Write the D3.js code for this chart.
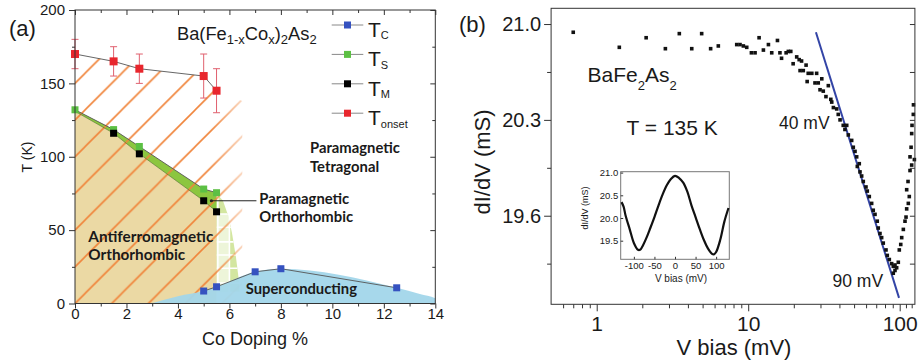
<!DOCTYPE html>
<html><head><meta charset="utf-8">
<script src="https://cdn.jsdelivr.net/npm/d3@7"></script>
<style>
body{margin:0;background:#fff;}
svg{display:block;}
text{font-family:"Liberation Sans",Arial,sans-serif;fill:#1a1a1a;}
.bold{font-family:Lato,"Open Sans",sans-serif;font-weight:700;}
</style></head><body>
<svg id="c" width="918" height="362"></svg>
<script>
// ================= DATA =================
// Panel (a): Ba(Fe1-xCox)2As2 phase diagram
const dopingOnset = [0, 1.5, 2.5, 5, 5.5];
const tOnset      = [170, 165, 160, 155, 145];
const tOnsetErr   = [10, 10, 10, 15, 15];
const dopingS = [0, 1.5, 2.5, 5, 5.5];
const tS      = [132, 118.5, 107, 78, 75.5];
const dopingM = [1.5, 2.5, 5, 5.5];
const tM      = [116, 102, 70, 62.5];
const dopingC = [5, 5.5, 7, 8, 12.5];
const tC      = [8.5, 11.4, 21.6, 23.7, 10.7];
// region outlines [doping, T]
const afmStart   = [[0, 0], [0, 131]];
const afmEnd     = [[5.5, 0]];
const hatchRight = [[6.5, 138], [6.5, 0]];
const poRegion   = [[5.5, 75], [5.75, 70], [5.95, 60], [6.1, 48], [6.25, 32], [6.35, 18], [6.4, 8], [5.5, 8]];
const poGridX    = [5.55, 6.0];
const poGridT    = [14, 24, 33, 42, 52, 61];
const domeLeft   = [[2.95, 0], [4, 5]];
const domeRight  = [[13.4, 6.5], [14, 3.5], [14, 0]];
const poLeader   = [[5.3, 70], [7.05, 70]];
// axis ticks
const xTicksA = [0, 2, 4, 6, 8, 10, 12, 14];
const xMinorA = [1, 3, 5, 7, 9, 11, 13];
const yTicksA = [0, 50, 100, 150, 200];
const yMinorA = [25, 75, 125, 175];
const legendNames = ["C", "S", "M", "onset"];
const legendColors = ["#3552c0", "#5cc044", "#000000", "#e8262d"];

// Panel (b): BaFe2As2 dI/dV vs V bias (log)
const biasV = [0.70,1.41,2.12,2.84,3.51,4.24,4.93,5.65,6.35,8.40,8.83,9.29,9.78,10.5,11.1,11.8,12.6,13.6,14.3,15.6,16.2,16.6,17.8,18.4,19.1,19.8,20.9,21.7,22.5,22.0,23.1,24.1,24.9,26.3,28.3,24.5,27.6,29.0,30.6,29.8,31.3,33.8,32.6,35.1,35.6,36.5,38.4,39.3,40.4,42.4,43.5,44.7,45.8,48.2,49.4,50.7,52.0,54.1,52.5,54.7,56.1,57.5,59.9,61.1,63.0,65.3,66.9,68.7,71.1,72.2,74.1,76.0,77.9,81.2,82.8,85.4,88.5,90.7,93.1,95.5,93.1,90.7,97.9,99.4,101.6,103.1,105.7,108.4,110.1,111.2,114.0,115.7,111.2,113.5,117.0,120.0,117.0,118.9,120.0,120.6,123.0,123.3,125.0];
const dIdV  = [20.94,20.83,20.90,20.82,20.93,20.82,20.93,20.82,20.84,20.85,20.85,20.84,20.83,20.79,20.79,20.90,20.81,20.85,20.79,20.88,20.79,20.75,20.79,20.80,20.80,20.71,20.76,20.74,20.73,20.66,20.66,20.70,20.64,20.64,20.64,20.58,20.57,20.57,20.60,20.52,20.51,20.55,20.47,20.45,20.43,20.39,20.38,20.34,20.30,20.26,20.23,20.26,20.19,20.15,20.10,20.07,20.03,19.98,19.96,19.92,19.89,19.85,19.81,19.78,19.74,19.69,19.64,19.61,19.56,19.51,19.47,19.44,19.40,19.35,19.31,19.28,19.25,19.23,19.24,19.22,19.20,19.18,19.26,19.35,19.39,19.44,19.50,19.56,19.59,19.65,19.69,19.74,19.79,19.85,19.93,19.97,20.03,20.10,20.20,20.26,20.34,20.41,20.01];
const fitV = [28, 99];
const fitG = [20.94, 19.0];
const yTicksB = [19.6, 20.3, 21.0];
const yMinorB = [19.25, 19.95, 20.65];
const xTicksB = [1, 10, 100];
const xMinorB = [0.6,0.7,0.8,0.9,2,3,4,5,6,7,8,9,20,30,40,50,60,70,80,90,110,120];
// inset: full bias sweep
const insetV = [-130,-125,-120,-110,-100,-90,-85,-80,-70,-60,-50,-40,-30,-20,-10,0,10,20,30,40,50,60,70,80,90,95,100,110,120,130];
const insetG = [20.35,20.25,20.05,19.75,19.45,19.30,19.30,19.36,19.55,19.78,20.02,20.28,20.52,20.72,20.86,20.93,20.88,20.78,20.58,20.28,20.02,19.76,19.52,19.33,19.21,19.20,19.25,19.52,19.92,20.22];
const insetXTicks = [-100, -50, 0, 50, 100];
const insetYTicks = [19.5, 20.0, 20.5, 21.0];

// ================= DRAW =================
const svg = d3.select("#c");
const defs = svg.append("defs");
const axisColor = "#333";

// ---------- Panel (a) ----------
const xA = d3.scaleLinear().domain([0, 14]).range([75, 435.3]);
const yA = d3.scaleLinear().domain([0, 200]).range([303.5, 10]);
const P = d => [xA(d[0]), yA(d[1])];
const zipA = (xs, ys) => xs.map((x, i) => [x, ys[i]]);
const poly = pts => "M" + pts.map(P).map(p => p.join(",")).join("L") + "Z";

const onsetPts = zipA(dopingOnset, tOnset);
const sPts = zipA(dopingS, tS);
const mPts = zipA(dopingM, tM);
const cPts = zipA(dopingC, tC);

const gA = svg.append("g");

// AFM tan region
gA.append("path").attr("d", poly([...afmStart, ...mPts, ...afmEnd])).attr("fill", "#ebd9a4");

// paramagnetic orthorhombic region
defs.append("clipPath").attr("id", "poClip").append("path").attr("d", poly(poRegion));
gA.append("path").attr("d", poly(poRegion)).attr("fill", "#d3e6a0");
const poG = gA.append("g").attr("clip-path", "url(#poClip)");
poG.append("rect").attr("x", xA(poGridX[0])).attr("width", xA(poGridX[1]) - xA(poGridX[0]))
  .attr("y", yA(poGridT[poGridT.length - 1])).attr("height", yA(0) - yA(poGridT[poGridT.length - 1]))
  .attr("fill", "#fff").attr("opacity", 0.6);
poG.selectAll("line.gx").data(poGridX).join("line")
  .attr("x1", d => xA(d)).attr("x2", d => xA(d)).attr("y1", yA(75)).attr("y2", yA(0))
  .attr("stroke", "#fff").attr("stroke-width", 1.6);
poG.selectAll("line.gy").data(poGridT).join("line")
  .attr("x1", xA(5.5)).attr("x2", xA(6.5)).attr("y1", d => yA(d)).attr("y2", d => yA(d))
  .attr("stroke", "#fff").attr("stroke-width", 1.6);

// green band between T_S and T_M
gA.append("path").attr("d", poly([...sPts, ...mPts.slice().reverse(), afmStart[1]])).attr("fill", "#8cc63f");

// hatching
const s = 36.7;
const pat = defs.append("pattern").attr("id", "hatch").attr("patternUnits", "userSpaceOnUse")
  .attr("width", s).attr("height", s).attr("x", 11.5).attr("y", 0);
pat.append("path").attr("d", `M0,${s}L${s},0M-2,2L2,-2M${s-2},${s+2}L${s+2},${s-2}`)
  .attr("stroke", "#f0843a").attr("stroke-width", 1.6);
defs.append("clipPath").attr("id", "hatchClip").append("path")
  .attr("d", poly([[0, 0], ...onsetPts, ...hatchRight]));
const grad = defs.append("linearGradient").attr("id", "fadeG").attr("gradientUnits", "userSpaceOnUse")
  .attr("x1", xA(5.3)).attr("x2", xA(6.6)).attr("y1", 0).attr("y2", 0);
grad.append("stop").attr("offset", 0).attr("stop-color", "#fff");
grad.append("stop").attr("offset", 1).attr("stop-color", "#555");
defs.append("mask").attr("id", "fadeM").attr("maskUnits", "userSpaceOnUse")
  .attr("x", 0).attr("y", 0).attr("width", 918).attr("height", 362)
  .append("rect").attr("x", 0).attr("y", 0).attr("width", 918).attr("height", 362).attr("fill", "url(#fadeG)");
gA.append("rect").attr("x", 0).attr("y", 0).attr("width", 460).attr("height", 362)
  .attr("fill", "url(#hatch)").attr("clip-path", "url(#hatchClip)").attr("mask", "url(#fadeM)");

// superconducting dome
const domeTop = d3.line().x(d => xA(d[0])).y(d => yA(d[1])).curve(d3.curveMonotoneX);
gA.append("path")
  .attr("d", domeTop([...domeLeft, ...cPts, ...domeRight]) + "Z")
  .attr("fill", "#a2d6ea").attr("opacity", 0.95);

// series lines
const lineA = d3.line().x(d => xA(d[0])).y(d => yA(d[1]));
[onsetPts, sPts, cPts].forEach(pts => {
  gA.append("path").attr("d", lineA(pts)).attr("fill", "none").attr("stroke", "#555").attr("stroke-width", 0.9);
});
gA.append("path").attr("d", lineA([afmStart[1], ...mPts])).attr("fill", "none").attr("stroke", "#4a6a20").attr("stroke-width", 0.6);

// error bars
const eb = gA.append("g").attr("stroke", "#e0616f").attr("stroke-width", 1);
dopingOnset.forEach((x, i) => {
  const cx = xA(x), y1 = yA(tOnset[i] + tOnsetErr[i]), y2 = yA(tOnset[i] - tOnsetErr[i]);
  eb.append("line").attr("x1", cx).attr("x2", cx).attr("y1", y1).attr("y2", y2);
  eb.append("line").attr("x1", cx - 3.5).attr("x2", cx + 3.5).attr("y1", y1).attr("y2", y1);
  eb.append("line").attr("x1", cx - 3.5).attr("x2", cx + 3.5).attr("y1", y2).attr("y2", y2);
});

// markers
function squares(g, pts, color, size) {
  g.selectAll(null).data(pts).join("rect")
    .attr("x", d => xA(d[0]) - size / 2).attr("y", d => yA(d[1]) - size / 2)
    .attr("width", size).attr("height", size).attr("fill", color);
}
squares(gA, sPts, legendColors[1], 7);
squares(gA, mPts, legendColors[2], 7);
squares(gA, onsetPts, legendColors[3], 8);
squares(gA, cPts, legendColors[0], 7);

// leader line for PO label
gA.append("path").attr("d", lineA(poLeader)).attr("stroke", "#222").attr("stroke-width", 1).attr("fill", "none");
gA.append("circle").attr("cx", xA(poLeader[0][0])).attr("cy", yA(poLeader[0][1])).attr("r", 1.6).attr("fill", "#222");

// axes (a)
function styleAxis(g, fs) {
  g.select(".domain").remove();
  g.selectAll("line").attr("stroke", axisColor);
  g.selectAll("text").style("font-size", fs + "px").attr("fill", "#1a1a1a");
}
const fmt = d => String(d);
styleAxis(gA.append("g").attr("transform", `translate(0,${yA(0)})`)
  .call(d3.axisBottom(xA).tickValues(xTicksA).tickSize(5).tickPadding(-0.5).tickFormat(fmt)), 15);
styleAxis(gA.append("g").attr("transform", `translate(0,${yA(0)})`)
  .call(d3.axisBottom(xA).tickValues(xMinorA).tickSize(3).tickFormat("")), 1);
styleAxis(gA.append("g").attr("transform", `translate(0,${yA(200)})`)
  .call(d3.axisTop(xA).tickValues(xTicksA).tickSize(-5).tickFormat("")), 1);
styleAxis(gA.append("g").attr("transform", `translate(0,${yA(200)})`)
  .call(d3.axisTop(xA).tickValues(xMinorA).tickSize(-3).tickFormat("")), 1);
styleAxis(gA.append("g").attr("transform", `translate(${xA(0)},0)`)
  .call(d3.axisLeft(yA).tickValues(yTicksA).tickSize(6).tickPadding(4).tickFormat(fmt)), 15);
styleAxis(gA.append("g").attr("transform", `translate(${xA(0)},0)`)
  .call(d3.axisLeft(yA).tickValues(yMinorA).tickSize(3).tickFormat("")), 1);
styleAxis(gA.append("g").attr("transform", `translate(${xA(14)},0)`)
  .call(d3.axisRight(yA).tickValues(yTicksA).tickSize(-5).tickFormat("")), 1);
styleAxis(gA.append("g").attr("transform", `translate(${xA(14)},0)`)
  .call(d3.axisRight(yA).tickValues(yMinorA).tickSize(-3).tickFormat("")), 1);
gA.append("rect").attr("x", xA(0)).attr("y", yA(200)).attr("width", xA(14) - xA(0)).attr("height", yA(0) - yA(200))
  .attr("fill", "none").attr("stroke", axisColor).attr("stroke-width", 1);

// texts (a)
svg.append("text").attr("x", 9).attr("y", 36).style("font-size", "22px").text("(a)");
svg.append("text").attr("transform", "translate(32,157) rotate(-90)").attr("text-anchor", "middle")
  .style("font-size", "14px").text("T (K)");
svg.append("text").attr("x", 255).attr("y", 345).attr("text-anchor", "middle").style("font-size", "18px").text("Co Doping %");
const title = svg.append("text").attr("x", 177).attr("y", 39.5).style("font-size", "18.3px");
title.append("tspan").text("Ba(Fe");
title.append("tspan").attr("dy", 4).style("font-size", "13px").text("1-x");
title.append("tspan").attr("dy", -4).text("Co");
title.append("tspan").attr("dy", 4).style("font-size", "13px").text("x");
title.append("tspan").attr("dy", -4).text(")");
title.append("tspan").attr("dy", 4).style("font-size", "13px").text("2");
title.append("tspan").attr("dy", -4).text("As");
title.append("tspan").attr("dy", 4).style("font-size", "13px").text("2");

// legend
legendNames.forEach((n, i) => {
  const ly = 25 + i * 29.4;
  svg.append("line").attr("x1", 331.7).attr("x2", 363.3).attr("y1", ly).attr("y2", ly).attr("stroke", "#888").attr("stroke-width", 1);
  svg.append("rect").attr("x", 347.5 - 3.5).attr("y", ly - 3.5).attr("width", 7).attr("height", 7).attr("fill", legendColors[i]);
  const t = svg.append("text").attr("x", 368).attr("y", ly + 11.8).style("font-size", "21px");
  t.append("tspan").text("T");
  t.append("tspan").attr("dy", 2.5).style("font-size", "11px").text(n);
});

function boldLines(x, ys, lines, fs) {
  lines.forEach((l, i) => svg.append("text").attr("class", "bold").attr("x", x).attr("y", ys[i]).style("font-size", fs + "px").text(l));
}
boldLines(310, [153.3, 171.7], ["Paramagnetic", "Tetragonal"], 14.8);
boldLines(259.3, [204, 222.3], ["Paramagnetic", "Orthorhombic"], 14.8);
boldLines(88.3, [241.7, 260], ["Antiferromagnetic", "Orthorhombic"], 15.3);
boldLines(245.7, [294], ["Superconducting"], 14.8);

// ---------- Panel (b) ----------
const xB = d3.scaleLog().domain([0.5, 126]).range([551.1, 914.9]);
const yB = d3.scaleLinear().domain([18.953, 21.115]).range([304.3, 8.3]);
const gB = svg.append("g");

// fit line
const lineB = d3.line().x(d => xB(d[0])).y(d => yB(d[1]));
gB.append("path").attr("d", lineB(fitV.map((v, i) => [v, fitG[i]])))
  .attr("stroke", "#3344a6").attr("stroke-width", 2).attr("fill", "none");
// scatter
gB.selectAll(null).data(biasV.map((v, i) => [v, dIdV[i]])).join("rect")
  .attr("x", d => xB(d[0]) - 1.8).attr("y", d => yB(d[1]) - 1.8)
  .attr("width", 3.6).attr("height", 3.6).attr("fill", "#111");

const fmt1 = d3.format(".1f");
styleAxis(gB.append("g").attr("transform", `translate(0,${yB.range()[0]})`)
  .call(d3.axisBottom(xB).tickValues(xTicksB).tickSize(7).tickPadding(5).tickFormat(fmt)), 21);
styleAxis(gB.append("g").attr("transform", `translate(0,${yB.range()[0]})`)
  .call(d3.axisBottom(xB).tickValues(xMinorB).tickSize(4).tickFormat("")), 1);
styleAxis(gB.append("g").attr("transform", `translate(${xB.range()[0]},0)`)
  .call(d3.axisLeft(yB).tickValues(yTicksB).tickSize(7).tickPadding(3).tickFormat(fmt1)), 20);
styleAxis(gB.append("g").attr("transform", `translate(${xB.range()[0]},0)`)
  .call(d3.axisLeft(yB).tickValues(yMinorB).tickSize(4).tickFormat("")), 1);
styleAxis(gB.append("g").attr("transform", `translate(${xB.range()[1]},0)`)
  .call(d3.axisRight(yB).tickValues(yTicksB.concat(yMinorB)).tickSize(-5).tickFormat("")), 1);
gB.append("rect").attr("x", xB.range()[0]).attr("y", yB.range()[1])
  .attr("width", xB.range()[1] - xB.range()[0]).attr("height", yB.range()[0] - yB.range()[1])
  .attr("fill", "none").attr("stroke", axisColor).attr("stroke-width", 1);

svg.append("text").attr("x", 459).attr("y", 32).style("font-size", "22px").text("(b)");
svg.append("text").attr("transform", "translate(490,162) rotate(-90)").attr("text-anchor", "middle")
  .style("font-size", "22px").text("dI/dV (mS)");
svg.append("text").attr("x", 734).attr("y", 355).attr("text-anchor", "middle").style("font-size", "22px").text("V bias (mV)");
const bf = svg.append("text").attr("x", 587.5).attr("y", 82).style("font-size", "21px");
bf.append("tspan").text("BaFe");
bf.append("tspan").attr("dy", 8).style("font-size", "13px").text("2");
bf.append("tspan").attr("dy", -8).text("As");
bf.append("tspan").attr("dy", 8).style("font-size", "13px").text("2");
svg.append("text").attr("x", 626.5).attr("y", 135).style("font-size", "21px").text("T = 135 K");
svg.append("text").attr("x", 779).attr("y", 129).style("font-size", "17.5px").text("40 mV");
svg.append("text").attr("x", 832.5).attr("y", 286.7).style("font-size", "17.5px").text("90 mV");

// ---------- Inset ----------
const xI = d3.scaleLinear().domain([-132, 132]).range([620.7, 729.3]);
const yI = d3.scaleLinear().domain([19.09, 21.02]).range([259.3, 171.7]);
const gI = svg.append("g");
gI.append("rect").attr("x", 620.7).attr("y", 171.7).attr("width", 108.6).attr("height", 87.6)
  .attr("fill", "#fff").attr("stroke", "#777").attr("stroke-width", 1);
gI.append("path").attr("d", d3.line().x(d => xI(d[0])).y(d => yI(d[1])).curve(d3.curveCatmullRom)(insetV.map((v, i) => [v, insetG[i]])))
  .attr("fill", "none").attr("stroke", "#111").attr("stroke-width", 2.2);
styleAxis(gI.append("g").attr("transform", `translate(0,259.3)`)
  .call(d3.axisBottom(xI).tickValues(insetXTicks).tickSize(-2.5).tickPadding(2.5).tickFormat(fmt)), 9.5);
styleAxis(gI.append("g").attr("transform", `translate(620.7,0)`)
  .call(d3.axisLeft(yI).tickValues(insetYTicks).tickSize(-2.5).tickPadding(2.5).tickFormat(fmt1)), 9.5);
gI.selectAll("text").attr("fill", "#333");
svg.append("text").attr("transform", "translate(588,208) rotate(-90)").attr("text-anchor", "middle")
  .style("font-size", "9px").attr("fill", "#333").text("dI/dV (mS)");
svg.append("text").attr("x", 681).attr("y", 282).attr("text-anchor", "middle")
  .style("font-size", "10px").attr("fill", "#333").text("V bias (mV)");
</script>
</body></html>
